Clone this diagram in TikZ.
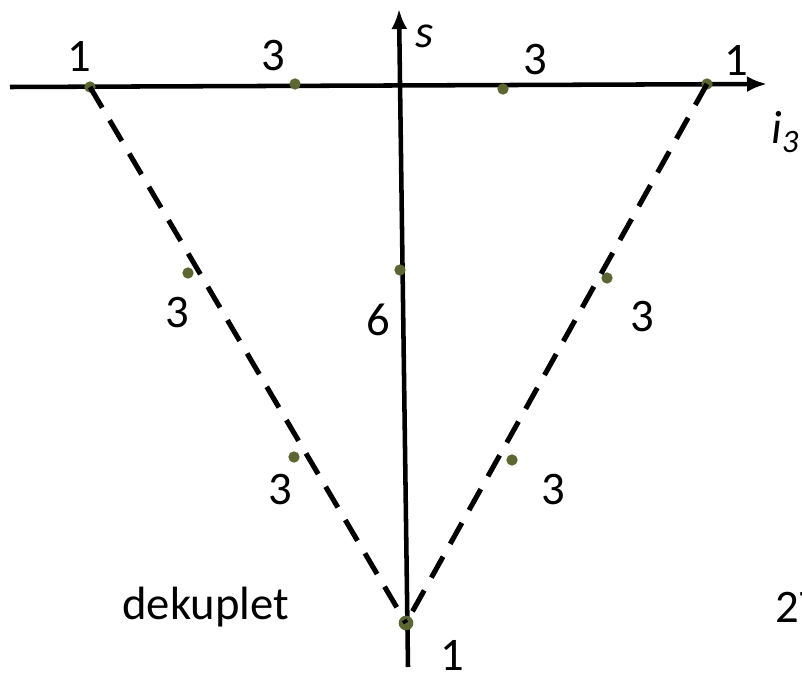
\documentclass[tikz,border=0pt]{standalone}
\usepackage{fontspec}
\setmainfont{Carlito}
\usetikzlibrary{arrows.meta}
\definecolor{wtFill}{HTML}{5C6633}
\tikzset{
  axis/.style ={line width=3.4pt, -{Latex[length=15pt,width=12pt]}},
  vee/.style  ={line width=3.8pt, dash pattern=on 18pt off 11pt},
  wt/.style   ={circle, fill=wtFill, inner sep=0pt, minimum size=8.5pt},
  lbl/.style  ={inner sep=0pt, font=\fontsize{35}{42}\selectfont},
}
\begin{document}
\begin{tikzpicture}[x=0.75pt, y=-0.75pt]
  \useasboundingbox (0,0) rectangle (802,677);
  % axes
  \coordinate (xl) at (10,87);  \coordinate (xr) at (767,84);
  \coordinate (sb) at (408,667); \coordinate (st) at (399,9);
  \draw[axis] (xl) -- (xr);
  \draw[axis] (sb) -- (st);
  \node[lbl, font=\fontsize{35}{42}\selectfont\itshape] (s)  at (425,36) {s};
  \node[lbl, anchor=west, font=\fontsize{35}{42}\selectfont\itshape] (i3) at (771,132) {i\textsubscript{3}};

  % weights
  \node[wt] (t1) at (90,87)  {};
  \node[wt] (t2) at (295,84) {};
  \node[wt] (t3) at (503,89) {};
  \node[wt] (t4) at (707,84) {};
  \node[wt] (l1) at (188,273) {};
  \node[wt] (l2) at (294,457) {};
  \node[wt] (c1) at (400,270) {};
  \node[wt] (r1) at (607,278) {};
  \node[wt] (r2) at (512,460) {};
  \node[wt, minimum size=11pt] (b1) at (406,623) {};
  \draw[vee] (t1.center) -- (b1.center);
  \draw[vee] (t4.center) -- (b1.center);

  % multiplicities
  \node[lbl] (n1) at (79,56)   {1};
  \node[lbl] (n2) at (273,56)  {3};
  \node[lbl] (n3) at (535,60)  {3};
  \node[lbl] (n4) at (736,60)  {1};
  \node[lbl] (n5) at (177,313) {3};
  \node[lbl] (n6) at (378,320) {6};
  \node[lbl] (n7) at (642,317) {3};
  \node[lbl] (n8) at (280,490) {3};
  \node[lbl] (n9) at (553,490) {3};
  \node[lbl] (n0) at (452,655) {1};

  \node[lbl, anchor=base west] (dk) at (122,619) {dekuplet};
  \node[lbl, anchor=base west] (nn) at (775,622) {27};
\end{tikzpicture}
\end{document}
